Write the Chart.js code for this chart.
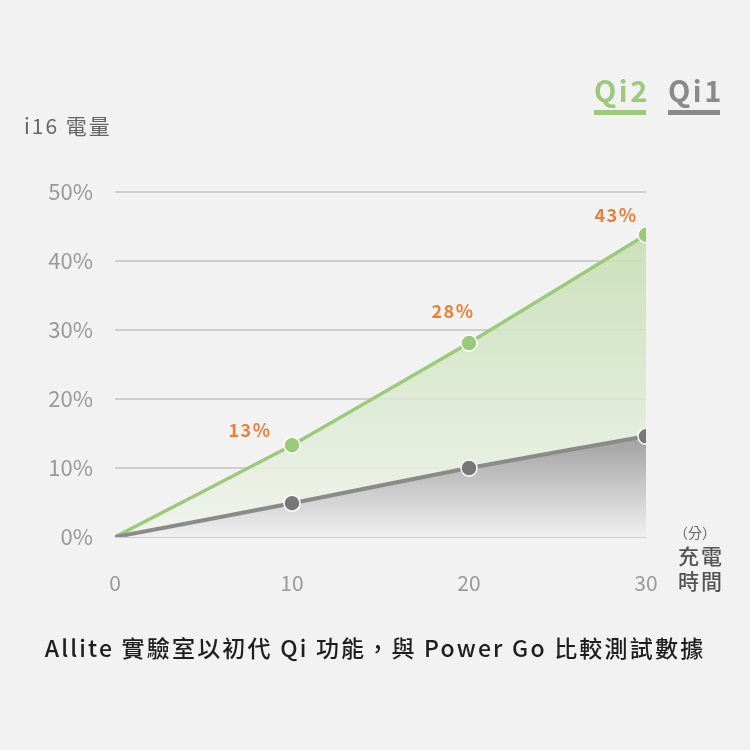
<!DOCTYPE html>
<html>
<head>
<meta charset="utf-8">
<script src="https://cdn.jsdelivr.net/npm/chart.js@4"></script>
<style>
  html, body { margin: 0; padding: 0; background: #f2f2f2; }
  #wrap { position: relative; width: 750px; height: 750px; }
  .txt { position: absolute; font-family: "Noto Sans CJK TC", "Noto Sans", sans-serif; }
  #ytitle { left: 24px; top: 110px; font-size: 21px; color: #666; letter-spacing: 2px; }
  #unit { left: 674px; top: 522px; font-size: 14px; color: #666; }
  #xtitle { left: 678px; top: 543px; font-size: 21px; line-height: 25px; color: #555; letter-spacing: 2px; font-weight: 500; }
  #caption { left: 0; width: 750px; top: 630px; text-align: center; font-size: 23px; color: #1e1e1e; letter-spacing: 2.2px; font-weight: 500; }
</style>
</head>
<body>
<div id="wrap">
  <canvas id="chart" width="750" height="750"></canvas>
  <div class="txt" id="ytitle">i16 電量</div>
  <div class="txt" id="unit">（分）</div>
  <div class="txt" id="xtitle">充電<br>時間</div>
  <div class="txt" id="caption">Allite 實驗室以初代 Qi 功能，與 Power Go 比較測試數據</div>
</div>
<script>
// minutes of charging
const minutes = [0, 10, 20, 30];
// battery %
const qi2 = [0, 13.3, 28.1, 43.8];
const qi1 = [0, 4.9, 10.0, 14.6];
const qi2Labels = ["", "13%", "28%", "43%"];
const yTicks = [0, 10, 20, 30, 40, 50];

const font = '"Noto Sans CJK TC", "Noto Sans", sans-serif';
const green = '#9cc97c';
const grey = '#8a8a8a';

// gradient running from the top of a series down to 0%
function fillGrad(ctx, values, top, bottom) {
  const chart = ctx.chart;
  const y = chart.scales.y;
  if (!chart.chartArea || !y) return top;
  const g = chart.ctx.createLinearGradient(0, y.getPixelForValue(Math.max(...values)), 0, y.getPixelForValue(0));
  g.addColorStop(0, top);
  g.addColorStop(1, bottom);
  return g;
}

// orange % labels over the Qi2 points
const labelOffsets = [[0, 0], [-42, -15], [-16, -32], [-30, -20]];
const valueLabels = {
  id: 'valueLabels',
  afterDatasetsDraw(chart) {
    const c = chart.ctx;
    const meta = chart.getDatasetMeta(1);
    c.save();
    c.font = 'bold 18px ' + font;
    c.letterSpacing = '1.5px';
    c.fillStyle = '#e8803a';
    c.textAlign = 'center';
    c.textBaseline = 'middle';
    meta.data.forEach((pt, i) => {
      if (!qi2Labels[i]) return;
      c.fillText(qi2Labels[i], pt.x + labelOffsets[i][0], pt.y + labelOffsets[i][1]);
    });
    c.restore();
  }
};

// Qi2 / Qi1 legend with bars underneath
const topLegend = {
  id: 'topLegend',
  afterDraw(chart) {
    const c = chart.ctx;
    const items = [
      { text: chart.data.datasets[1].label, color: green, x: 594 },
      { text: chart.data.datasets[0].label, color: grey, x: 668 }
    ];
    c.save();
    c.font = 'bold 29px ' + font;
    c.letterSpacing = '2.5px';
    c.textBaseline = 'alphabetic';
    c.textAlign = 'left';
    items.forEach(it => {
      c.fillStyle = it.color;
      c.fillText(it.text, it.x, 102);
      c.fillRect(it.x, 110, 52, 5);
    });
    c.restore();
  }
};

new Chart(document.getElementById('chart'), {
  type: 'line',
  data: {
    labels: minutes,
    datasets: [
      {
        label: 'Qi1',
        data: minutes.map((m, i) => ({ x: m, y: qi1[i] })),
        borderColor: grey,
        borderWidth: 4,
        tension: 0.3,
        fill: 'origin',
        backgroundColor: ctx => fillGrad(ctx, qi1, 'rgb(160,160,160)', 'rgb(240,240,240)'),
        pointRadius: [0, 8, 8, 8],
        pointBackgroundColor: '#777',
        pointBorderColor: '#fff',
        pointBorderWidth: 1.5,
        order: 0
      },
      {
        label: 'Qi2',
        data: minutes.map((m, i) => ({ x: m, y: qi2[i] })),
        borderColor: green,
        borderWidth: 3.5,
        tension: 0.05,
        fill: 'origin',
        backgroundColor: ctx => fillGrad(ctx, qi2, 'rgba(196,222,176,0.85)', 'rgba(240,244,236,0.85)'),
        pointRadius: [0, 8, 8, 8],
        pointBackgroundColor: '#9ac97a',
        pointBorderColor: '#fff',
        pointBorderWidth: 1.5,
        order: 1
      }
    ]
  },
  options: {
    responsive: false,
    animation: false,
    layout: { padding: { top: 192, right: 104, bottom: 0, left: 0 } },
    plugins: {
      legend: { display: false },
      tooltip: { enabled: false }
    },
    scales: {
      x: {
        type: 'linear',
        min: 0,
        max: 30,
        afterBuildTicks: s => { s.ticks = minutes.map(v => ({ value: v })); },
        afterFit: s => { s.height = 213; },
        grid: { display: false, drawTicks: false },
        border: { display: false },
        ticks: { padding: 33, color: '#999', font: { family: font, size: 21 }, maxRotation: 0 }
      },
      y: {
        min: 0,
        max: 50,
        afterBuildTicks: s => { s.ticks = yTicks.map(v => ({ value: v })); },
        afterFit: s => { s.width = 115; },
        grid: { color: '#cfcfcf', lineWidth: 2, drawTicks: false },
        border: { display: false },
        ticks: {
          padding: 22,
          color: '#999',
          font: { family: font, size: 22 },
          callback: v => v + '%'
        }
      }
    }
  },
  plugins: [valueLabels, topLegend]
});
</script>
</body>
</html>
